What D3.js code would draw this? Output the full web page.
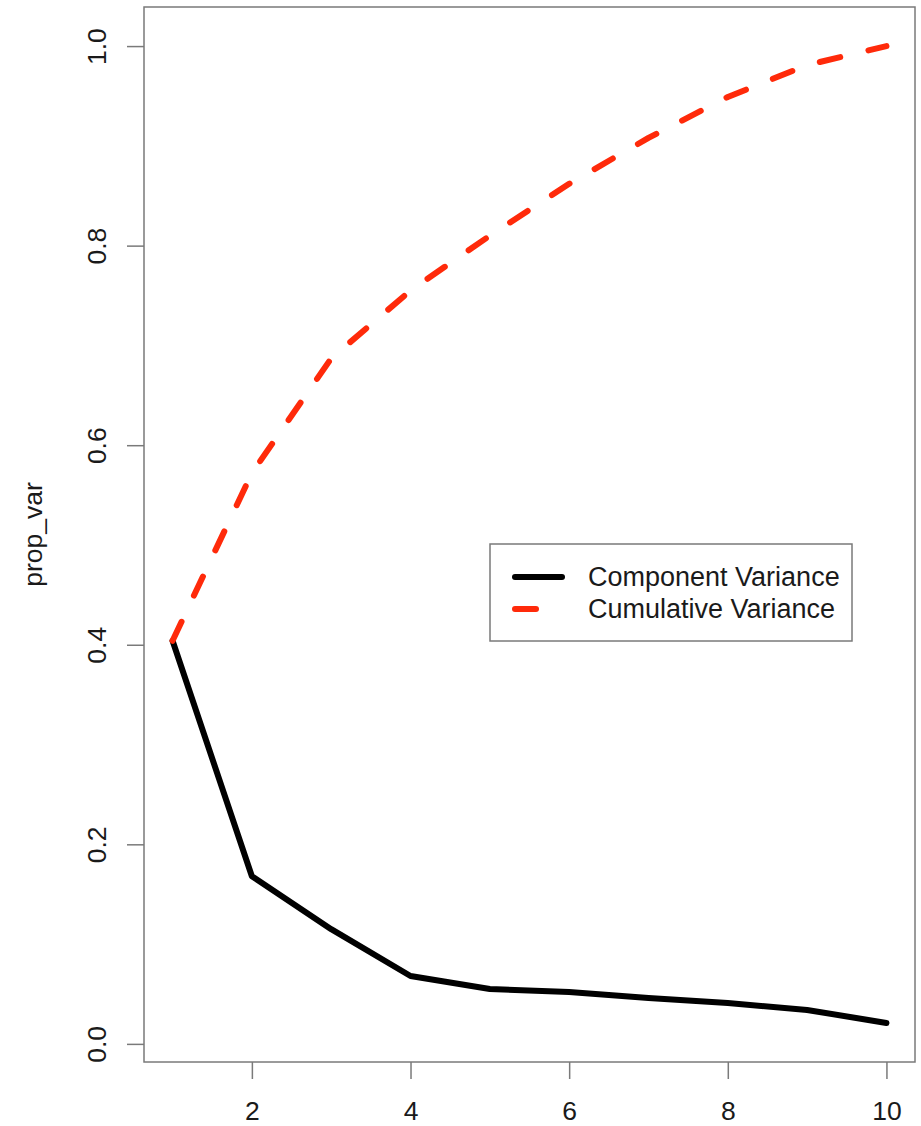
<!DOCTYPE html>
<html>

<head>
  <meta charset="UTF-8">
  <style>
    body { margin: 0; background: #fff; }
    svg { display: block; font-family: "Liberation Sans", Arial, sans-serif; }
  </style>
</head>

<body>
  <svg></svg>
  <script src="https://d3js.org/d3.v7.min.js"></script>

  <script>

    let width = 921, height = 1126;

    // data
    let components = [1, 2, 3, 4, 5, 6, 7, 8, 9, 10];
    let compVar = [0.404, 0.168, 0.115, 0.068, 0.055, 0.052, 0.046, 0.041, 0.034, 0.021];
    let cumVar = [0.404, 0.572, 0.687, 0.755, 0.810, 0.862, 0.908, 0.949, 0.981, 1.000];
    let xTicks = [2, 4, 6, 8, 10];
    let yTicks = [0, 0.2, 0.4, 0.6, 0.8, 1.0];
    let legendLabels = ["Component Variance", "Cumulative Variance"];

    let plot = { left: 144, top: 7, right: 915, bottom: 1062 };
    let red = "#ff2a0a", boxColor = "#7a7a7a", textColor = "#1a1a1a";

    let svg = d3.select("svg")
      .attr("width", width)
      .attr("height", height)
      .attr("viewBox", "0 0 " + width + " " + height);

    // R style 4% padding of the data range
    let xr = d3.extent(components);
    let xpad = (xr[1] - xr[0]) * 0.04;
    let x = d3.scaleLinear()
      .domain([xr[0] - xpad, xr[1] + xpad])
      .range([plot.left, plot.right]);

    let yr = d3.extent(compVar.concat(cumVar));
    let ypad = (yr[1] - yr[0]) * 0.04;
    let y = d3.scaleLinear()
      .domain([yr[0] - ypad, yr[1] + ypad])
      .range([plot.bottom, plot.top]);

    // x axis
    let xAxis = svg.append("g")
      .attr("transform", "translate(0," + plot.bottom + ")")
      .call(d3.axisBottom(x).tickValues(xTicks).tickSize(17).tickSizeOuter(0));
    xAxis.select(".domain").remove();
    xAxis.selectAll("line").attr("stroke", boxColor).attr("stroke-width", 1.5);
    xAxis.selectAll("text")
      .attr("fill", textColor)
      .style("font-size", "26.5px")
      .attr("y", 58).attr("dy", 0);

    // y axis, labels turned like R's las=0
    let yAxis = svg.append("g")
      .attr("transform", "translate(" + plot.left + ",0)")
      .call(d3.axisLeft(y).tickValues(yTicks).tickFormat(d3.format(".1f")).tickSize(17).tickSizeOuter(0));
    yAxis.select(".domain").remove();
    yAxis.selectAll("line").attr("stroke", boxColor).attr("stroke-width", 1.5);
    yAxis.selectAll("text")
      .attr("fill", textColor)
      .style("font-size", "26.5px")
      .attr("transform", "rotate(-90)")
      .attr("x", 0).attr("y", -38).attr("dy", 0)
      .attr("text-anchor", "middle");

    svg.append("text")
      .attr("transform", "translate(42," + (plot.top + plot.bottom) / 2 + ") rotate(-90)")
      .attr("text-anchor", "middle")
      .attr("fill", textColor)
      .style("font-size", "26.5px")
      .text("prop_var");

    // lines
    let line = d3.line()
      .x((d, i) => x(components[i]))
      .y(d => y(d));

    svg.append("path")
      .datum(compVar)
      .attr("d", line)
      .attr("fill", "none")
      .attr("stroke", "#000")
      .attr("stroke-width", 6)
      .attr("stroke-linecap", "round")
      .attr("stroke-linejoin", "round");

    svg.append("path")
      .datum(cumVar)
      .attr("d", line)
      .attr("fill", "none")
      .attr("stroke", red)
      .attr("stroke-width", 6)
      .attr("stroke-dasharray", "21,29")
      .attr("stroke-linecap", "round")
      .attr("stroke-linejoin", "round");

    // plot box
    svg.append("rect")
      .attr("x", plot.left).attr("y", plot.top)
      .attr("width", plot.right - plot.left)
      .attr("height", plot.bottom - plot.top)
      .attr("fill", "none")
      .attr("stroke", boxColor)
      .attr("stroke-width", 1.5);

    // legend
    let legend = svg.append("g").attr("transform", "translate(490,544)");
    legend.append("rect")
      .attr("width", 362).attr("height", 97)
      .attr("fill", "#fff")
      .attr("stroke", boxColor)
      .attr("stroke-width", 1.5);

    let styles = [{ color: "#000", dash: null }, { color: red, dash: "21,29" }];
    legendLabels.forEach((label, i) => {
      let ly = 33 + i * 32;
      legend.append("line")
        .attr("x1", 25).attr("x2", 72)
        .attr("y1", ly).attr("y2", ly)
        .attr("stroke", styles[i].color)
        .attr("stroke-width", 6)
        .attr("stroke-linecap", "round")
        .attr("stroke-dasharray", styles[i].dash);
      legend.append("text")
        .attr("x", 98).attr("y", ly)
        .attr("dy", "0.35em")
        .attr("fill", textColor)
        .style("font-size", "27px")
        .text(label);
    });

  </script>

</body>

</html>
